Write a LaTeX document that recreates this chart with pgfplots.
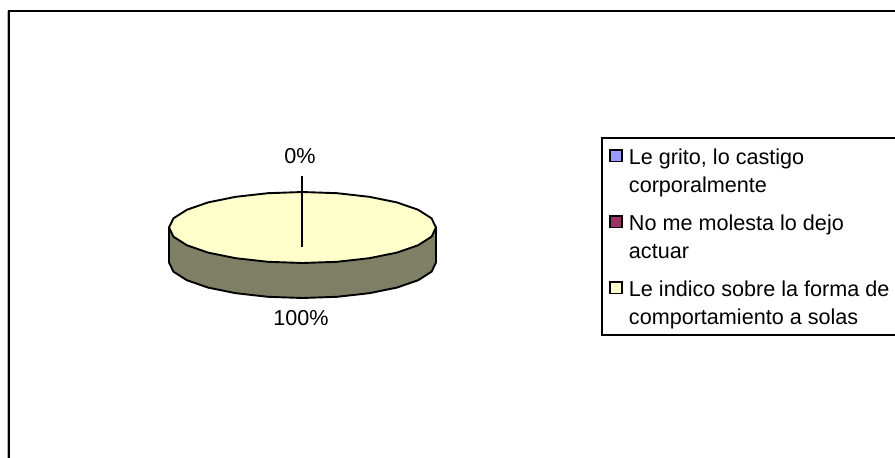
\documentclass[border=0pt]{standalone}
\usepackage{pgfplots}
\pgfplotsset{compat=1.18}
\usepackage{fontspec}
\setmainfont{Liberation Sans}
\definecolor{pblue}{HTML}{9999FF}
\definecolor{pmaroon}{HTML}{993366}
\definecolor{pyellow}{HTML}{FFFFCC}
\definecolor{pside}{HTML}{7F7F66}
\pgfplotsset{
  swatch/.style={legend image code/.code={
    \path[draw=none] (0pt,0pt) -- (12pt,0pt);
    \pgfinterruptboundingbox
    \draw[#1,line width=1.6pt] (0pt,9pt) rectangle (12pt,20.5pt);
    \endpgfinterruptboundingbox}}
}
\newcommand{\entry}[2]{\parbox[t]{300pt}{\setlength{\baselineskip}{28pt}\rule{0pt}{22pt}#1\\#2\rule[-5pt]{0pt}{5pt}}}
\begin{document}
\begin{tikzpicture}[x=1pt,y=1pt]
\path[use as bounding box] (0,0) rectangle (895,458);
\begin{axis}[
  at={(0,0)},anchor=south west,
  scale only axis,width=895pt,height=458pt,
  xmin=0,xmax=895,ymin=0,ymax=458,y dir=reverse,
  hide axis,
  legend style={at={(axis cs:601,137)},anchor=north west,draw=black,line width=1.9pt,
    fill=white,font=\fontsize{21.6}{28}\selectfont,
    inner xsep=8pt,inner ysep=3pt,row sep=7pt,
    nodes={text depth=},
    /tikz/every odd column/.append style={column sep=5pt},
    legend cell align=left},
  legend cell align=left,
]
% slices of 0 % draw as a single radius
\addplot[swatch={fill=pblue,draw=black},draw=black,line width=1.9pt]
  coordinates {(302,227)(302,192)};
\addlegendentry{\entry{Le grito, lo castigo}{corporalmente}}
\addplot[swatch={fill=pmaroon,draw=black},draw=black,line width=1.9pt]
  coordinates {(302,227)(302,192)};
\addlegendentry{\entry{No me molesta lo dejo}{actuar}}
% side wall
\addplot[forget plot,fill=pside,draw=black,line width=1.9pt] coordinates {
 (436,227.5)(436,262.5)(431.5,271.7)(418.1,280.25)(396.9,287.6)(369.25,293.2)(337.1,296.8)
 (302.5,298)(267.9,296.8)(235.75,293.2)(208.1,287.6)(186.9,280.25)(173.5,271.7)(169,262.5)(169,227.5)
} -- cycle;
% top face
\addplot[swatch={fill=pyellow,draw=black},fill=pyellow,draw=black,line width=1.9pt] coordinates {
 (436,227.5)(431.5,236.7)(418.1,245.25)(396.9,252.6)(369.25,258.2)(337.1,261.8)
 (302.5,263)(267.9,261.8)(235.75,258.2)(208.1,252.6)(186.9,245.25)(173.5,236.7)
 (169,227.5)(173.5,218.3)(186.9,209.75)(208.1,202.4)(235.75,196.8)(267.9,193.2)
 (302.5,192)(337.1,193.2)(369.25,196.8)(396.9,202.4)(418.1,209.75)(431.5,218.3)
} -- cycle;
\addlegendentry{\entry{Le indico sobre la forma de}{comportamiento a solas}}
% leader line
\addplot[forget plot,draw=black,line width=1.9pt] coordinates {(302,176)(302,247)};
\node[font=\fontsize{21.6}{25}\selectfont] at (axis cs:300,156) {0\%};
\node[font=\fontsize{21.6}{25}\selectfont] at (axis cs:301,318) {100\%};
% frame of the chart area, running off the image to the right and below
\draw[gray!60,line width=1pt] (axis cs:7.5,458) -- (axis cs:7.5,11);
\draw[black,line width=2.2pt] (axis cs:9,458) -- (axis cs:9,11) -- (axis cs:895,11);
\end{axis}
\end{tikzpicture}
\end{document}
